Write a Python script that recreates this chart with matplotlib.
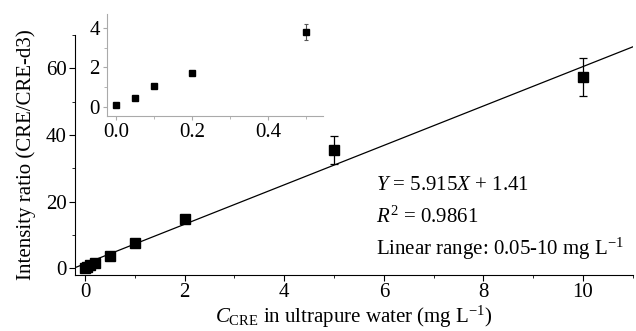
import numpy as np
import matplotlib
matplotlib.use("Agg")
import matplotlib.pyplot as plt
from matplotlib.ticker import MultipleLocator

plt.rcParams['font.family'] = ['Liberation Serif', 'DejaVu Serif']
plt.rcParams['mathtext.fontset'] = 'custom'
plt.rcParams['mathtext.rm'] = 'Liberation Serif'
plt.rcParams['mathtext.it'] = 'Liberation Serif:italic'

# concentration (mg/L), intensity ratio, error
conc = [0, 0.05, 0.1, 0.2, 0.5, 1, 2, 5, 10]
ratio = [0.1, 0.45, 1.05, 1.7, 3.8, 7.5, 14.7, 35.5, 57.5]
err = [0.05, 0.05, 0.05, 0.05, 0.4, 0.3, 0.4, 4.2, 5.7]
slope, intercept = 5.915, 1.41

fs = 15

fig = plt.figure(figsize=(6.36, 3.31), dpi=100)
ax = fig.add_axes([0.118, 0.169, 0.877, 0.725])

xfit = np.array([-0.2, 11])
ax.plot(xfit, slope * xfit + intercept, color='black', lw=0.9)
ax.errorbar(conc, ratio, yerr=err, fmt='s', color='black', ms=7,
            elinewidth=0.9, capsize=3, capthick=0.9)
ax.set_xlim(-0.2, 11)
ax.set_ylim(-2, 70)
ax.xaxis.set_major_locator(MultipleLocator(2))
ax.xaxis.set_minor_locator(MultipleLocator(1))
ax.yaxis.set_major_locator(MultipleLocator(20))
ax.yaxis.set_minor_locator(MultipleLocator(10))
ax.spines['top'].set_visible(False)
ax.spines['right'].set_visible(False)
ax.tick_params(which='major', length=4, labelsize=fs, direction='out', pad=2)
ax.tick_params(which='minor', length=2.5, direction='out')
ax.set_xlabel(r'$C_{\mathrm{CRE}}$ in ultrapure water (mg L$^{-1}$)', fontsize=fs, labelpad=1)
ax.set_ylabel('Intensity ratio (CRE/CRE-d3)', fontsize=fs, labelpad=7)

ax.text(0.54, 0.375, r'$Y$ = 5.915$X$ + 1.41', transform=ax.transAxes, fontsize=fs, va='center')
ax.text(0.54, 0.24, r'$R^2$ = 0.9861', transform=ax.transAxes, fontsize=fs, va='center')
ax.text(0.54, 0.11, r'Linear range: 0.05-10 mg L$^{-1}$', transform=ax.transAxes, fontsize=fs, va='center')

# inset
ins = fig.add_axes([0.168, 0.650, 0.340, 0.308])
ins.errorbar(conc[:5], ratio[:5], yerr=err[:5], fmt='s', color='black', ms=5,
             elinewidth=0.8, ecolor='#555555', capsize=1.5, capthick=0.8)
ins.set_xlim(-0.025, 0.545)
ins.set_ylim(-0.45, 4.7)
ins.xaxis.set_major_locator(MultipleLocator(0.2))
ins.xaxis.set_minor_locator(MultipleLocator(0.1))
ins.yaxis.set_major_locator(MultipleLocator(2))
ins.yaxis.set_minor_locator(MultipleLocator(1))
ins.xaxis.set_major_formatter(matplotlib.ticker.FormatStrFormatter('%.1f'))
ins.spines['top'].set_visible(False)
ins.spines['right'].set_visible(False)
for s in ['left', 'bottom']:
    ins.spines[s].set_color('#aaaaaa')
ins.tick_params(which='both', colors='#aaaaaa', labelcolor='black', labelsize=fs, pad=2)
ins.tick_params(which='major', length=3)
ins.tick_params(which='minor', length=2)

fig.savefig('out.png', dpi=100)
